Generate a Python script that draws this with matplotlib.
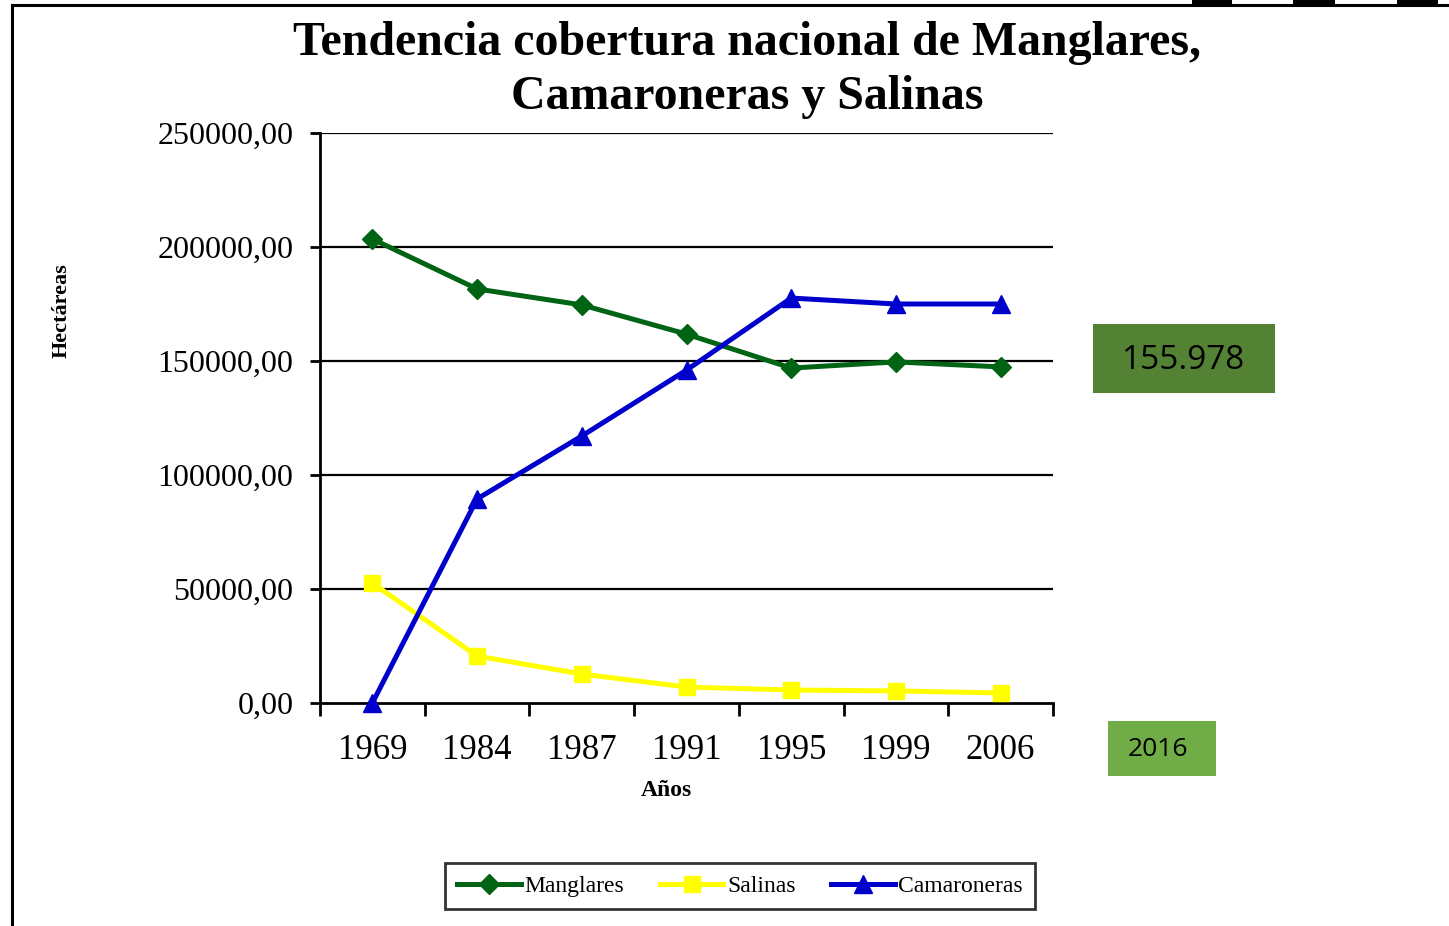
import matplotlib
matplotlib.use('Agg')
import matplotlib.pyplot as plt
from matplotlib.patches import Rectangle
from matplotlib.lines import Line2D

# Data
years = ['1969', '1984', '1987', '1991', '1995', '1999', '2006']
manglares = [203500, 181600, 174600, 161800, 146900, 149600, 147400]
salinas = [52600, 20600, 12700, 7000, 5700, 5300, 4400]
camaroneras = [0, 89500, 117100, 146000, 177600, 175000, 175000]
y_ticks = [0, 50000, 100000, 150000, 200000, 250000]
y_tick_labels = ['0,00', '50000,00', '100000,00', '150000,00', '200000,00', '250000,00']

W, H = 1449, 926
fig = plt.figure(figsize=(W / 100, H / 100), dpi=100)
plt.rcParams['font.family'] = ['Liberation Serif', 'DejaVu Serif']

ax = fig.add_axes([320 / W, 1 - 703 / H, (1053 - 320) / W, (703 - 133) / H])
x = list(range(len(years)))

ax.plot(x, manglares, color='#006414', lw=3.6, marker='D', ms=10, label='Manglares',
        zorder=4, clip_on=False)
ax.plot(x, salinas, color='#FFFF00', lw=3.6, marker='s', ms=12, label='Salinas',
        zorder=3, clip_on=False)
ax.plot(x, camaroneras, color='#0000CC', lw=3.6, marker='^', ms=13, label='Camaroneras',
        zorder=5, clip_on=False)

ax.set_xlim(-0.5, len(years) - 0.5)
ax.set_ylim(0, 250000)
ax.set_yticks(y_ticks)
ax.set_yticklabels(y_tick_labels, fontsize=23)
ax.set_xticks(x)
ax.set_xticklabels(years, fontsize=25)
ax.set_xticks([i - 0.5 for i in range(len(years) + 1)], minor=True)
ax.tick_params(axis='x', which='major', length=0, pad=22)
ax.tick_params(axis='x', which='minor', length=9, width=2, direction='out')
ax.tick_params(axis='y', length=7, width=2, direction='out', pad=12)

for v in y_ticks[1:]:
    ax.axhline(v, color='black', lw=1.6, zorder=1)
for s in ['top', 'right']:
    ax.spines[s].set_visible(False)
ax.spines['left'].set_linewidth(2)
ax.spines['bottom'].set_linewidth(2)

fig.text(666 / W, 1 - 791 / H, 'Años', fontsize=17, fontweight='bold', ha='center', va='center')
fig.text(62 / W, 1 - 311 / H, 'Hectáreas', rotation=90, fontsize=16, fontweight='bold',
         ha='center', va='center')

fig.text(747 / W, 1 - 70 / H, 'Tendencia cobertura nacional de Manglares,\nCamaroneras y Salinas',
         fontsize=34.5, fontweight='bold', ha='center', va='center', linespacing=1.32)

fig.legend(loc='center', bbox_to_anchor=(740 / W, 1 - 886 / H), ncol=3, fontsize=17,
           frameon=True, fancybox=False, edgecolor='black', handlelength=2.7,
           handletextpad=0.15, columnspacing=1.5, borderpad=0.5, borderaxespad=0)
leg = fig.legends[0]
leg.get_frame().set_linewidth(2)

# Side boxes
fig.patches.append(Rectangle((1093 / W, 1 - 393 / H), 182 / W, 69 / H,
                             transform=fig.transFigure, facecolor='#548235', edgecolor='none'))
fig.text(1184 / W, 1 - 360 / H, '155.978', fontsize=24, family='Open Sans',
         ha='center', va='center', color='black')
fig.patches.append(Rectangle((1108 / W, 1 - 776 / H), 108 / W, 55 / H,
                             transform=fig.transFigure, facecolor='#70AD47', edgecolor='none'))
fig.text(1158 / W, 1 - 749 / H, '2016', fontsize=19, family='Open Sans',
         ha='center', va='center', color='black')

# Page border
fig.lines.append(Line2D([12 / W, 12 / W], [0, 1 - 5 / H], transform=fig.transFigure,
                        color='black', lw=2.2))
fig.lines.append(Line2D([12 / W, 1], [1 - 5 / H, 1 - 5 / H], transform=fig.transFigure,
                        color='black', lw=2.2))
for x0, x1 in [(1192, 1232), (1293, 1335), (1397, 1438)]:
    fig.patches.append(Rectangle((x0 / W, 1 - 5 / H), (x1 - x0) / W, 5 / H,
                                 transform=fig.transFigure, facecolor='black', edgecolor='none'))

fig.savefig('out.png', dpi=100)
